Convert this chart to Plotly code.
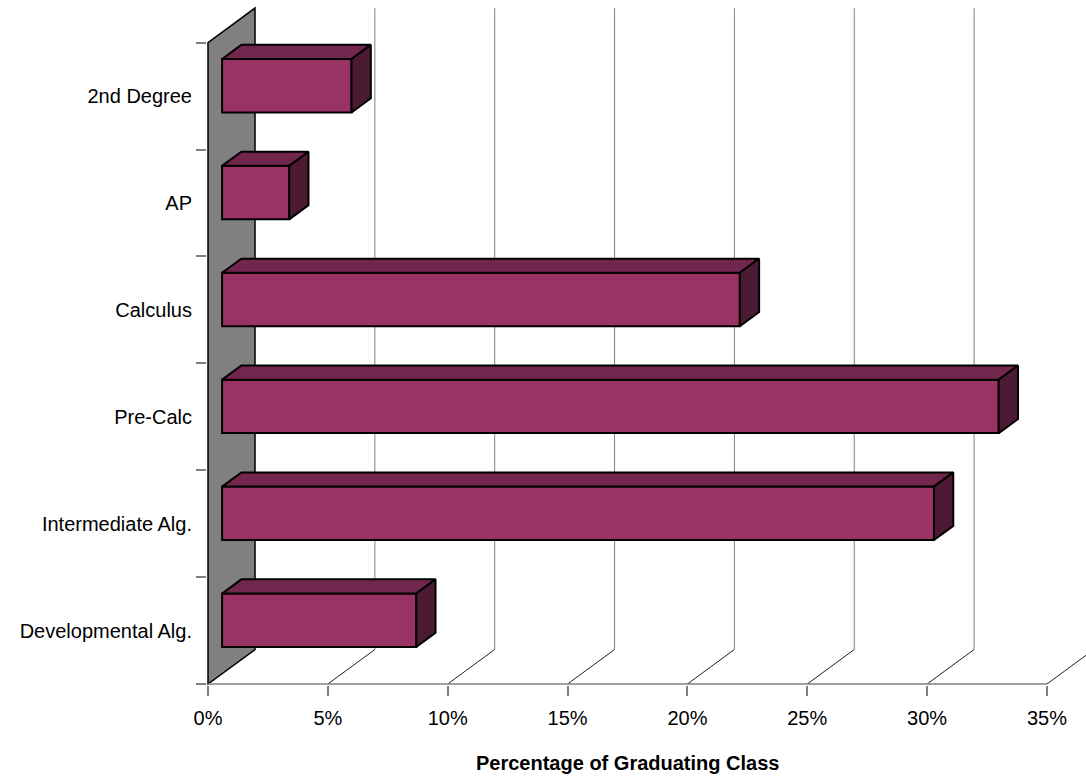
import plotly.graph_objects as go

# ---------------- data ----------------
categories = ["Developmental Alg.", "Intermediate Alg.", "Pre-Calc", "Calculus", "AP", "2nd Degree"]
values = [8.1, 29.7, 32.4, 21.6, 2.8, 5.4]          # percent of graduating class
x_ticks = [0, 5, 10, 15, 20, 25, 30, 35]
x_tick_labels = [f"{t}%" for t in x_ticks]
x_title = "Percentage of Graduating Class"

# ---------------- geometry / style ----------------
W, H = 1086, 776
ML, MR, MT, MB = 207, 0, 0, 91
PX_PER_PCT = 23.97
PX_PER_CAT = 106.9
DX = 47 / PX_PER_PCT      # depth offset in x units
DY = 34.5 / PX_PER_CAT    # depth offset in y units
F0, F1 = 0.3, 0.71        # bar depth position (front / back fraction)
HALF = 0.25               # half bar thickness (category units)

plot_w = W - ML - MR
plot_h = H - MT - MB
x0 = -1 / PX_PER_PCT
xr = [x0, x0 + plot_w / PX_PER_PCT]
y0 = -0.5 - 1 / PX_PER_CAT
yr = [y0, y0 + plot_h / PX_PER_CAT]

FRONT = "#993366"
TOP = "#73264D"
SIDE = "#4D1A33"
WALL = "#808080"
FONT = "Liberation Sans, Arial, sans-serif"

n = len(categories)
y_lo, y_hi = -0.5, n - 0.5


def path(pts, close=True):
    s = "M " + " L ".join(f"{px},{py}" for px, py in pts)
    return s + (" Z" if close else "")


shapes = []
# side wall
shapes.append(dict(type="path", xref="x", yref="y", layer="below",
                   path=path([(0, y_lo), (0, y_hi), (DX, y_hi + DY), (DX, y_lo + DY)]),
                   fillcolor=WALL, line=dict(color="#000000", width=1.5)))
# back gridlines and floor diagonals
for t in x_ticks[1:]:
    shapes.append(dict(type="line", xref="x", yref="y", layer="below",
                       x0=t + DX, x1=t + DX, y0=y_lo + DY, y1=y_hi + DY,
                       line=dict(color="#808080", width=1)))
    shapes.append(dict(type="line", xref="x", yref="y", layer="below",
                       x0=t, x1=t + DX, y0=y_lo, y1=y_lo + DY,
                       line=dict(color="#202020", width=1)))
# front x axis line
shapes.append(dict(type="line", xref="x", yref="y", layer="below",
                   x0=x_ticks[0], x1=x_ticks[-1], y0=y_lo, y1=y_lo,
                   line=dict(color="#808080", width=1.5)))

fig = go.Figure()

# front faces
fig.add_trace(go.Bar(
    orientation="h",
    y=[i + F0 * DY for i in range(n)],
    x=values,
    base=[F0 * DX] * n,
    width=2 * HALF,
    marker=dict(color=FRONT, line=dict(color="#000000", width=2)),
    hoverinfo="skip", showlegend=False))

# top and side faces of the bars
for i, v in enumerate(values):
    yt = i + HALF
    yb = i - HALF
    fig.add_trace(go.Scatter(
        x=[F0 * DX, v + F0 * DX, v + F1 * DX, F1 * DX, F0 * DX],
        y=[yt + F0 * DY, yt + F0 * DY, yt + F1 * DY, yt + F1 * DY, yt + F0 * DY],
        mode="lines", fill="toself", fillcolor=TOP,
        line=dict(color="#000000", width=2), hoverinfo="skip", showlegend=False))
    fig.add_trace(go.Scatter(
        x=[v + F0 * DX, v + F1 * DX, v + F1 * DX, v + F0 * DX, v + F0 * DX],
        y=[yb + F0 * DY, yb + F1 * DY, yt + F1 * DY, yt + F0 * DY, yb + F0 * DY],
        mode="lines", fill="toself", fillcolor=SIDE,
        line=dict(color="#000000", width=2), hoverinfo="skip", showlegend=False))

fig.update_layout(
    width=W, height=H,
    margin=dict(l=ML, r=MR, t=MT, b=MB, pad=0),
    plot_bgcolor="white", paper_bgcolor="white",
    font=dict(family=FONT, size=20, color="#000000"),
    shapes=shapes,
    xaxis=dict(range=xr, showgrid=False, zeroline=False, showline=False,
               tickmode="array", tickvals=x_ticks, ticktext=x_tick_labels,
               ticks="outside", ticklen=10, tickwidth=1.5, tickcolor="#808080",
               ticklabelstandoff=5, tickfont=dict(size=20)),
    yaxis=dict(range=yr, showgrid=False, zeroline=False, showline=False,
               tickmode="array", tickvals=list(range(n)), ticktext=categories,
               ticks="", ticklabelstandoff=14, tickfont=dict(size=20),
               minor=dict(tickmode="array", tickvals=[k - 0.5 for k in range(n + 1)],
                          ticks="outside", ticklen=10, tickwidth=1.5, tickcolor="#808080")),
    annotations=[dict(x=(x_ticks[0] + x_ticks[-1]) / 2, xref="x", y=-(762 - 684) / plot_h,
                      yref="paper", text=f"<b>{x_title}</b>", showarrow=False,
                      xanchor="center", yanchor="middle", font=dict(size=20))],
)

fig.write_html("out.html")
